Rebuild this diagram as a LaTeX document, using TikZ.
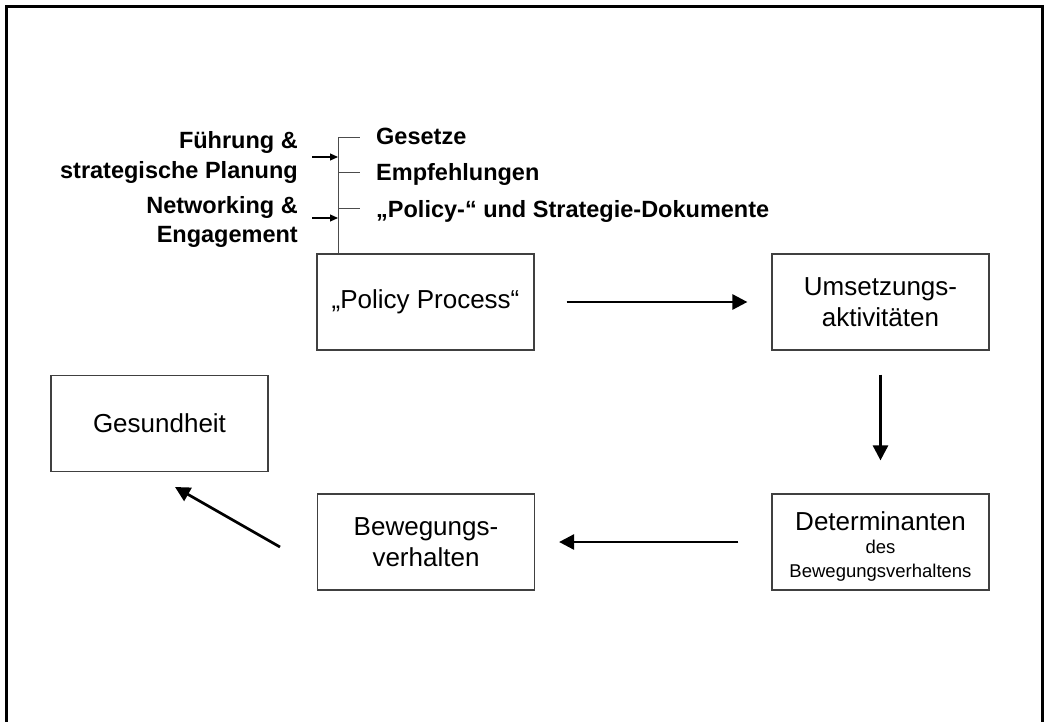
\documentclass[tikz,border=0pt]{standalone}
\usepackage{fontspec}
\setmainfont{Liberation Sans}
\usetikzlibrary{arrows.meta}
\begin{document}
\begin{tikzpicture}[x=1bp,y=-1bp,
  box/.style={draw=black!75, line width=1.2bp, minimum width=217bp, minimum height=96bp, inner sep=0pt, align=center, font=\fontsize{26bp}{31bp}\selectfont},
  bigarrow/.style={line width=2.7bp, -{Triangle[length=15bp,width=15bp]}},
  thinline/.style={draw=black!70, line width=1bp},
  smallarrow/.style={line width=1.2bp, -{Triangle[length=8bp,width=7bp]}},
  lbl/.style={inner sep=0pt, font=\fontsize{23.5bp}{28bp}\selectfont\bfseries},
]
\useasboundingbox (0,0) rectangle (1045,722);
% outer frame
\draw[line width=3bp] (6.5,722) -- (6.5,7) -- (1042,7) -- (1042,722);

% boxes
\node[box] (pp) at (425.5,302) {„Policy Process“};
\node[box] (u) at (880.5,302) {Umsetzungs-\\aktivitäten};
\node[box] (det) at (880.5,542) {};
\node[inner sep=0pt, align=center, font=\fontsize{18.5bp}{23.5bp}\selectfont] (dettext) at ([yshift=-4bp]det.center) {{\fontsize{26bp}{23bp}\selectfont Determinanten}\\des\\Bewegungsverhaltens};
\node[box] (bew) at (426,542) {Bewegungs-\\verhalten};
\node[box] (ges) at (159.5,423.5) {Gesundheit};

% main arrows
\draw[bigarrow, shorten <=32bp, shorten >=24bp] (pp) -- (u);
\draw[bigarrow, shorten <=24bp, shorten >=33bp] (u) -- (det);
\draw[bigarrow, shorten <=33bp, shorten >=24bp] (det) -- (bew);
\coordinate (b1) at (280,547);
\coordinate (g1) at (175,487);
\draw[bigarrow] (b1) -- (g1);

% bracket
\coordinate (bt) at (338,138);
\coordinate (bm) at (338,173);
\coordinate (bb) at (338,208);
\coordinate (t1) at (360,138);
\coordinate (t2) at (360,173);
\coordinate (t3) at (360,208);
\draw[thinline] (bt) -- (bt |- pp.north);
\draw[thinline] (bt) -- (t1);
\draw[thinline] (bm) -- (t2);
\draw[thinline] (bb) -- (t3);

\node[lbl, anchor=base west] (gs) at (376,145) {Gesetze};
\node[lbl, anchor=base west] (em) at (376,181) {Empfehlungen};
\node[lbl, anchor=base west] (po) at (376,217) {„Policy-“ und Strategie-Dokumente};

\node[lbl, anchor=base east] (f1) at (298,149) {Führung \&};
\node[lbl, anchor=base east] (f2) at (298,179) {strategische Planung};
\node[lbl, anchor=base east] (n1) at (298,213) {Networking \&};
\node[lbl, anchor=base east] (n2) at (298,242) {Engagement};

\coordinate (s1) at (312,157);
\coordinate (e1) at (338,157);
\coordinate (s2) at (312,218);
\coordinate (e2) at (338,218);
\draw[smallarrow] (s1) -- (e1);
\draw[smallarrow] (s2) -- (e2);
\end{tikzpicture}
\end{document}
